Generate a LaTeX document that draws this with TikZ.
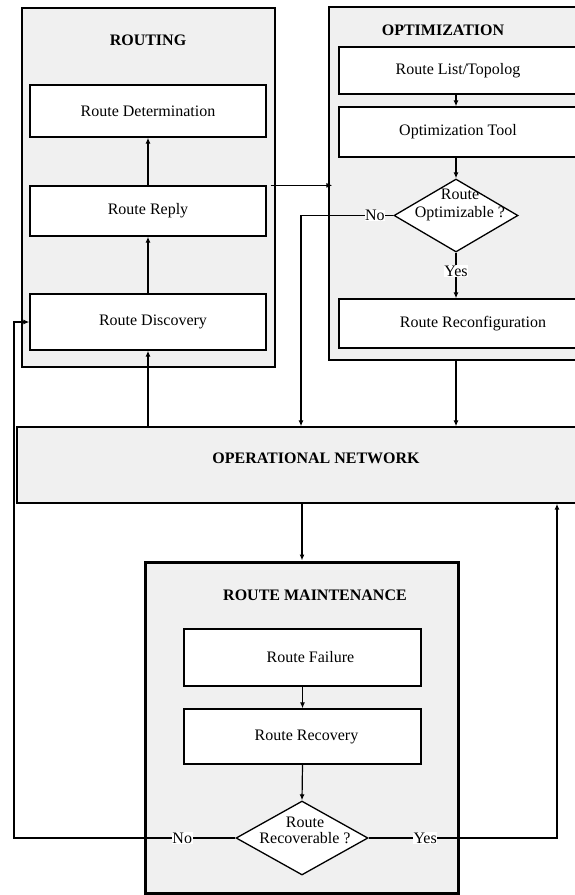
\documentclass[tikz,border=0pt]{standalone}
\usepackage{fontspec}
\setmainfont{Liberation Serif}
\usetikzlibrary{shapes.geometric,arrows.meta}
\definecolor{panelgray}{HTML}{F0F0F0}
\tikzset{
  txt/.style={font=\fontsize{16}{16}\selectfont, inner sep=0pt},
  ttl/.style={font=\fontsize{16}{16}\selectfont\bfseries, inner sep=0pt},
  panel/.style={draw, fill=panelgray, line width=1.3pt, rectangle, inner sep=0pt},
  blk/.style={draw, fill=white, line width=1.3pt, rectangle, inner sep=0pt,
              font=\fontsize{16}{16}\selectfont},
  dec/.style={draw, fill=white, diamond, line width=1.3pt, inner sep=0pt},
  arr/.style={-{Latex[length=6pt,width=5pt]}, line width=1.2pt},
  lbl/.style={fill=white, inner sep=0.5pt, font=\fontsize{16}{16}\selectfont}
}
\begin{document}
\begin{tikzpicture}[x=1pt,y=-1pt]
\useasboundingbox (0,0) rectangle (575,895);
\clip (0,0) rectangle (575,895);

% panels
\node[panel, minimum width=253pt, minimum height=359pt] (routing) at (148.5,187.5) {};
\node[panel, minimum width=271pt, minimum height=353pt] (opt) at (464.5,183.5) {};
\node[panel, minimum width=583pt, minimum height=76pt] (on) at (308.5,465) {};
\node[panel, line width=3pt, minimum width=313pt, minimum height=331pt] (rm) at (301.5,727.5) {};

% panel titles
\node[ttl] (troute) at (148,40) {ROUTING};
\node[ttl] (topt) at (443,30) {OPTIMIZATION};
\node[ttl] (ton) at (316,458) {OPERATIONAL NETWORK};
\node[ttl] (trm) at (315,595) {ROUTE MAINTENANCE};

% routing steps
\node[blk, minimum width=236pt, minimum height=52pt] (det) at (148,111) {Route Determination};
\node[blk, minimum width=236pt, minimum height=50pt] (reply) at (148,211) {Route Reply};
\node[blk, minimum width=236pt, minimum height=56pt] (disc) at (148,322) {\hspace*{10pt}Route Discovery};

% optimization steps
\node[blk, minimum width=238pt, minimum height=47pt] (list) at (458,70.5) {Route List/Topolog};
\node[blk, minimum width=238pt, minimum height=50pt] (tool) at (458,132) {Optimization Tool};
\node[dec, minimum width=124pt, minimum height=73pt] (d1) at (456,215.5) {};
\node[txt, align=center] (d1t) at (460,205) {Route\\[2pt]Optimizable ?};
\node[blk, minimum width=268pt, minimum height=49pt] (reconf) at (473,323.5) {Route Reconfiguration};

% maintenance steps
\node[blk, minimum width=237pt, minimum height=57pt] (fail) at (302.5,657.5) {\hspace*{16pt}Route Failure};
\node[blk, minimum width=237pt, minimum height=55pt] (recov) at (302.5,736.5) {\hspace*{8pt}Route Recovery};
\node[dec, minimum width=132pt, minimum height=74pt] (d2) at (302,838) {};
\node[txt, align=center] (d2t) at (305,830) {Route\\[0pt]Recoverable ?};

% turning points
\coordinate (noturn) at (301,215.5);
\coordinate (leftturn) at (14,838);
\coordinate (rightturn) at (557,838);

% routing flow
\draw[arr] (disc) -- (reply);
\draw[arr] (reply) -- (det);
\draw[arr] (on.north -| disc) -- (disc.south);
\draw[arr] ([xshift=4pt]reply.north east) -- ([xshift=4pt]reply.north east -| opt.west);

% optimization flow
\draw[arr] (list.south -| d1) -- (tool.north -| d1);
\draw[arr] (tool.south -| d1) -- (d1.north);
\draw[arr] (d1.south) -- node[lbl, pos=0.4]{Yes} (d1.south |- reconf.north);
\draw[arr] (d1.west) -- node[lbl, pos=0.2]{No} (noturn) -- (noturn |- on.north);
\draw[arr] (opt.south -| d1) -- (on.north -| d1);

% maintenance flow
\draw[arr] (on.south -| d2) -- (rm.north -| d2);
\draw[arr] (fail) -- (recov);
\draw[arr] (recov.south) -- (d2.north);
\draw[arr] (d2.west) -- node[lbl, pos=0.24]{No} (leftturn) -- (leftturn |- disc.west) -- (disc.west);
\draw[arr] (d2.east) -- node[lbl, pos=0.3]{Yes} (rightturn) -- (rightturn |- on.south);
\end{tikzpicture}
\end{document}
